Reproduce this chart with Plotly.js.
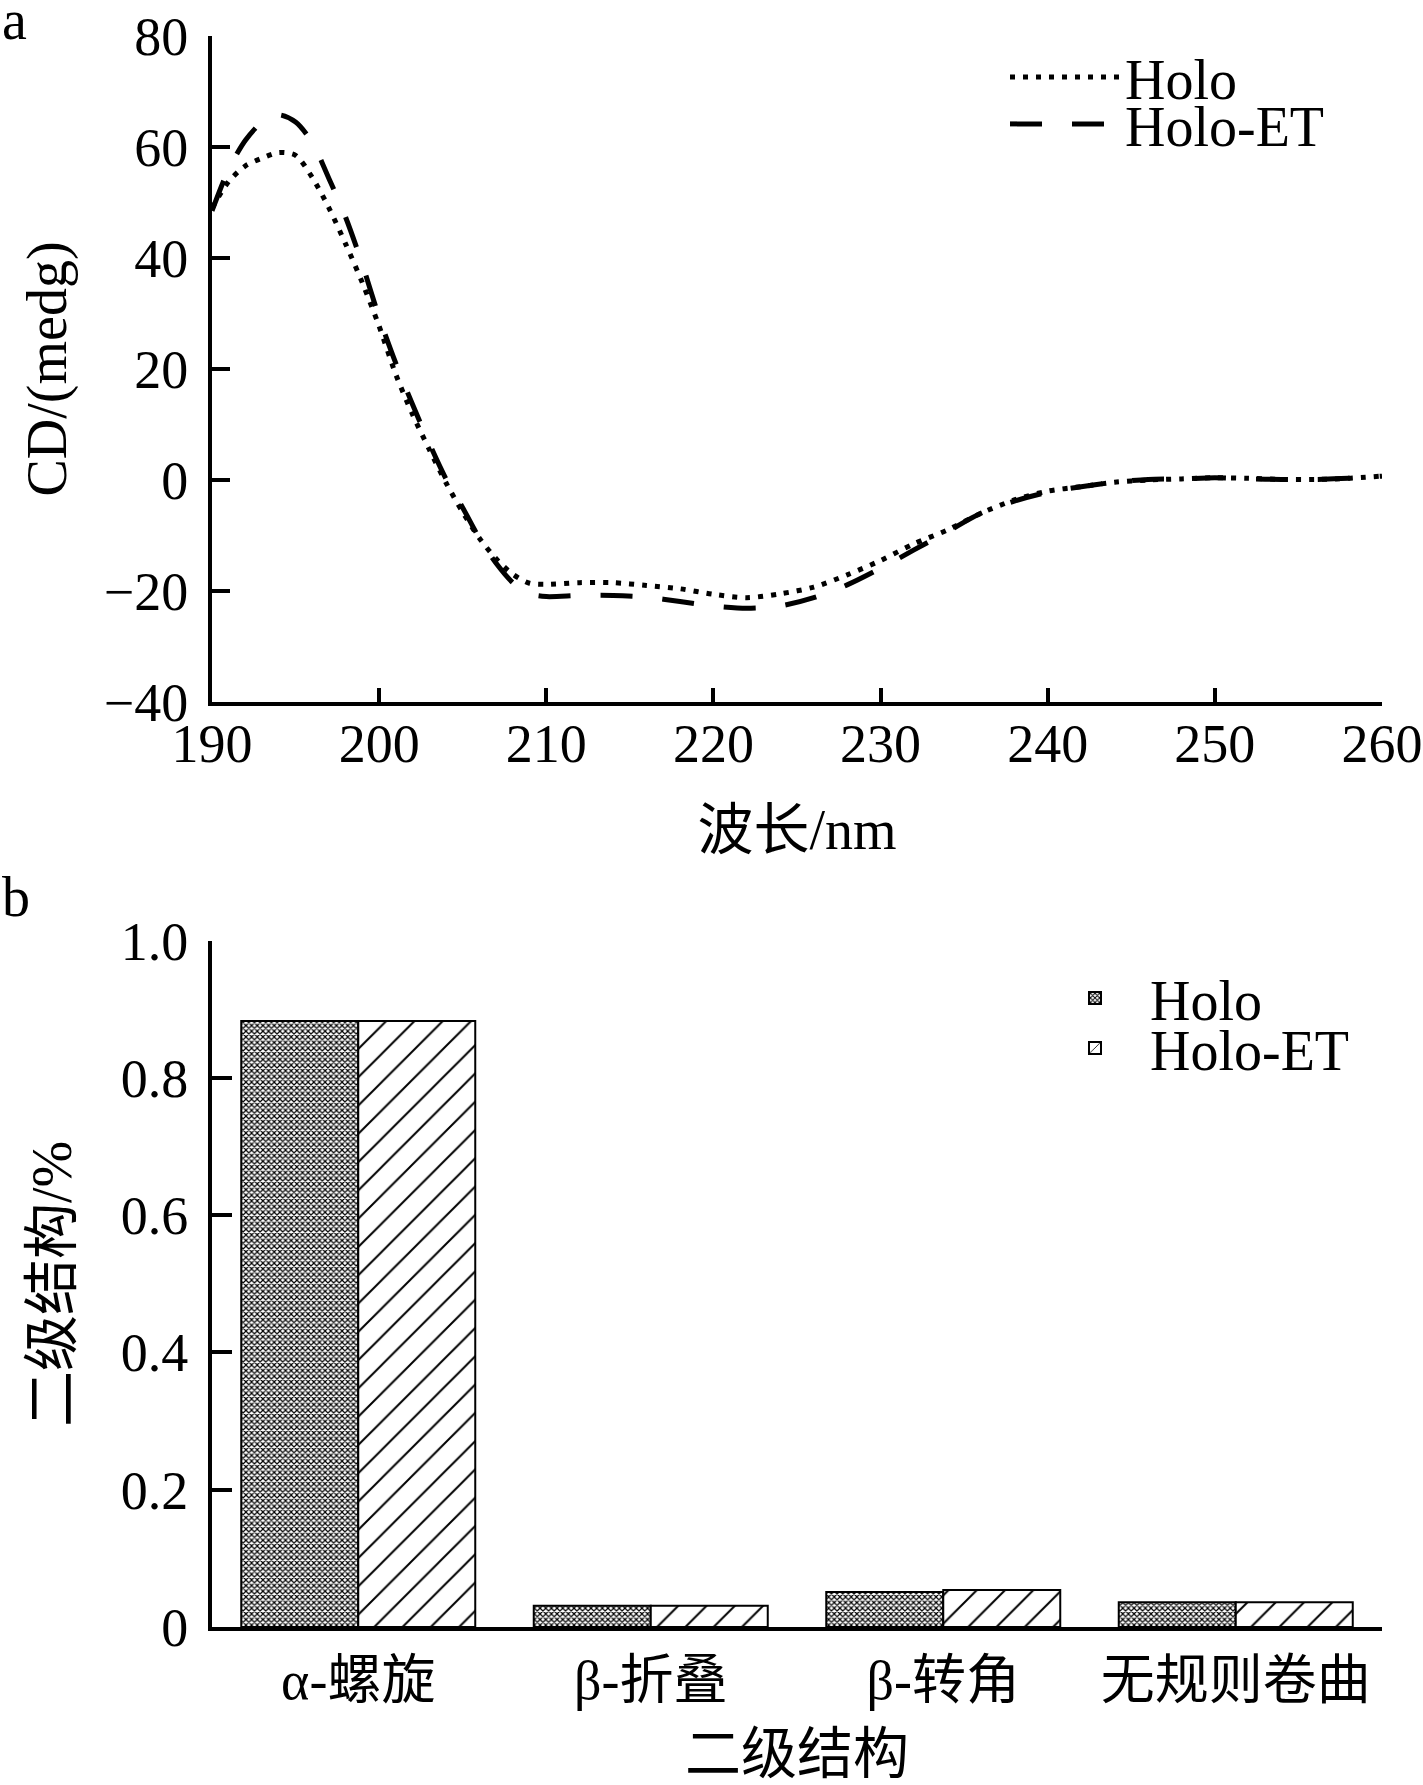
<!DOCTYPE html>
<html>
<head>
<meta charset="utf-8">
<script src="https://cdn.plot.ly/plotly-3.0.1.min.js"></script>
<style>html,body{margin:0;padding:0;background:#fff;}#chart{width:1423px;height:1785px;}</style>
</head>
<body>
<div id="chart"></div>
<script>
// ---- Data ----
const wavelength = [190,191,192,193,194,195,196,197,198,199,200,201,202,203,204,205,206,207,208,209,210,212,214,216,218,220,222,224,226,228,230,232,234,236,238,240,242,244,246,248,250,252,254,256,258,260];
const holo = [49.0,53.8,56.6,58.0,59.0,58.5,54.5,49.0,42.5,35.5,27.7,19.0,11.8,5.5,-0.5,-5.8,-10.5,-14.2,-17.0,-18.6,-18.8,-18.5,-18.5,-19.0,-19.6,-20.6,-21.2,-20.5,-19.3,-17.1,-14.5,-11.5,-9.0,-6.0,-3.6,-2.0,-1.2,-0.4,0.0,0.2,0.4,0.3,0.1,0.1,0.3,0.7];
const holoET = [48.5,56.0,61.2,64.5,65.8,64.5,60.8,54.3,47.3,38.8,29.3,21.0,13.6,6.6,0.2,-5.0,-10.5,-15.0,-18.5,-20.5,-21.0,-20.8,-20.8,-21.1,-21.9,-22.7,-23.1,-22.7,-21.2,-18.9,-15.9,-12.6,-9.3,-6.0,-3.8,-2.2,-1.2,-0.4,0.1,0.2,0.4,0.2,0.1,0.1,0.3,0.7];
const seriesNames = ['Holo','Holo-ET'];
const xTicksA = [190,200,210,220,230,240,250,260];
const yTicksA = [-40,-20,0,20,40,60,80];

const categories = ['α-螺旋','β-折叠','β-转角','无规则卷曲'];
const holoStruct = [0.883,0.031,0.051,0.036];
const holoETStruct = [0.883,0.031,0.054,0.036];
const yTickValsB = [0,0.2,0.4,0.6,0.8,1.0];
const yTickTextB = ['0','0.2','0.4','0.6','0.8','1.0'];

// ---- Layout helpers (pixel -> paper) ----
const W = 1423, H = 1785;
const M = {l:212, r:41, t:36, b:158};
const PW = W - M.l - M.r, PH = H - M.t - M.b;
const px = x => (x - M.l) / PW;
const py = y => (H - M.b - y) / PH;

const FONT = '"Liberation Serif", "Noto Sans CJK SC", serif';
const CJK = '"Liberation Serif", "Noto Sans CJK SC", serif';

const traces = [
  {x: wavelength, y: holo, name: seriesNames[0], type: 'scatter', mode: 'lines',
   line: {color: '#000', width: 5, dash: '5px,8px', shape: 'spline', smoothing: 0.8},
   xaxis: 'x', yaxis: 'y', legend: 'legend'},
  {x: wavelength, y: holoET, name: seriesNames[1], type: 'scatter', mode: 'lines',
   line: {color: '#000', width: 5, dash: '32px,30px', shape: 'spline', smoothing: 0.8},
   xaxis: 'x', yaxis: 'y', legend: 'legend2'},
  {x: categories, y: holoStruct, name: seriesNames[0], type: 'bar',
   marker: {color: '#fff', line: {color: '#000', width: 2},
            pattern: {shape: 'x', size: 4, solidity: 0.5, fgcolor: '#000', bgcolor: '#fff', fillmode: 'replace'}},
   xaxis: 'x2', yaxis: 'y2', legend: 'legend3'},
  {x: categories, y: holoETStruct, name: seriesNames[1], type: 'bar',
   marker: {color: '#fff', line: {color: '#000', width: 2},
            pattern: {shape: '/', size: 20, solidity: 0.1, fgcolor: '#000', bgcolor: '#fff', fillmode: 'replace'}},
   xaxis: 'x2', yaxis: 'y2', legend: 'legend4'}
];

const axisCommon = {
  showgrid: false, zeroline: false, showline: true, linecolor: '#000', linewidth: 4,
  tickcolor: '#000', tickwidth: 4, color: '#000',
  tickfont: {family: FONT, size: 54, color: '#000'}
};

const legendCommon = {
  bgcolor: 'rgba(0,0,0,0)', borderwidth: 0, xanchor: 'left', yanchor: 'middle',
  font: {family: FONT, size: 56, color: '#000'}, itemclick: false, itemdoubleclick: false
};

const layout = {
  width: W, height: H, margin: M,
  paper_bgcolor: '#fff', plot_bgcolor: '#fff',
  barmode: 'group', bargap: 0.2, bargroupgap: 0,
  showlegend: true,
  xaxis: Object.assign({}, axisCommon, {
    domain: [0, 1], anchor: 'y', range: [190, 260], tickvals: xTicksA,
    ticks: 'inside', ticklen: 14, ticklabelstandoff: -9,
    title: {text: '波长/nm', font: {family: CJK, size: 56, color: '#000'}, standoff: 38}
  }),
  yaxis: Object.assign({}, axisCommon, {
    domain: [py(702), 1], anchor: 'x', range: [-40, 80], tickvals: yTicksA,
    ticks: 'inside', ticklen: 18, ticklabelstandoff: 9,
    title: {text: 'CD/(medg)', font: {family: FONT, size: 56, color: '#000'}, standoff: 20}
  }),
  xaxis2: Object.assign({}, axisCommon, {
    domain: [0, 1], anchor: 'y2', range: [-0.5, 3.5], type: 'category',
    ticks: '', ticklabelstandoff: 3,
    tickfont: {family: CJK, size: 54, color: '#000'},
    title: {text: '二级结构', font: {family: CJK, size: 56, color: '#000'}, standoff: 48}
  }),
  yaxis2: Object.assign({}, axisCommon, {
    domain: [0, py(940.7)], anchor: 'x2', range: [0, 1.0],
    tickvals: yTickValsB, ticktext: yTickTextB,
    ticks: 'inside', ticklen: 20, ticklabelstandoff: 9,
    title: {text: '二级结构/%', font: {family: CJK, size: 56, color: '#000'}, standoff: 32}
  }),
  legend: Object.assign({}, legendCommon, {x: px(1005), y: py(77), itemwidth: 110}),
  legend2: Object.assign({}, legendCommon, {x: px(1005), y: py(124), itemwidth: 110}),
  legend3: Object.assign({}, legendCommon, {x: px(1040), y: py(998), itemwidth: 100}),
  legend4: Object.assign({}, legendCommon, {x: px(1040), y: py(1048), itemwidth: 100}),
  annotations: [
    {text: 'a', xref: 'paper', yref: 'paper', x: px(0), y: py(53), xanchor: 'left', yanchor: 'bottom',
     showarrow: false, font: {family: FONT, size: 56, color: '#000'}},
    {text: 'b', xref: 'paper', yref: 'paper', x: px(0), y: py(930), xanchor: 'left', yanchor: 'bottom',
     showarrow: false, font: {family: FONT, size: 56, color: '#000'}}
  ]
};

Plotly.newPlot('chart', traces, layout, {staticPlot: true, displayModeBar: false});
</script>
</body>
</html>
